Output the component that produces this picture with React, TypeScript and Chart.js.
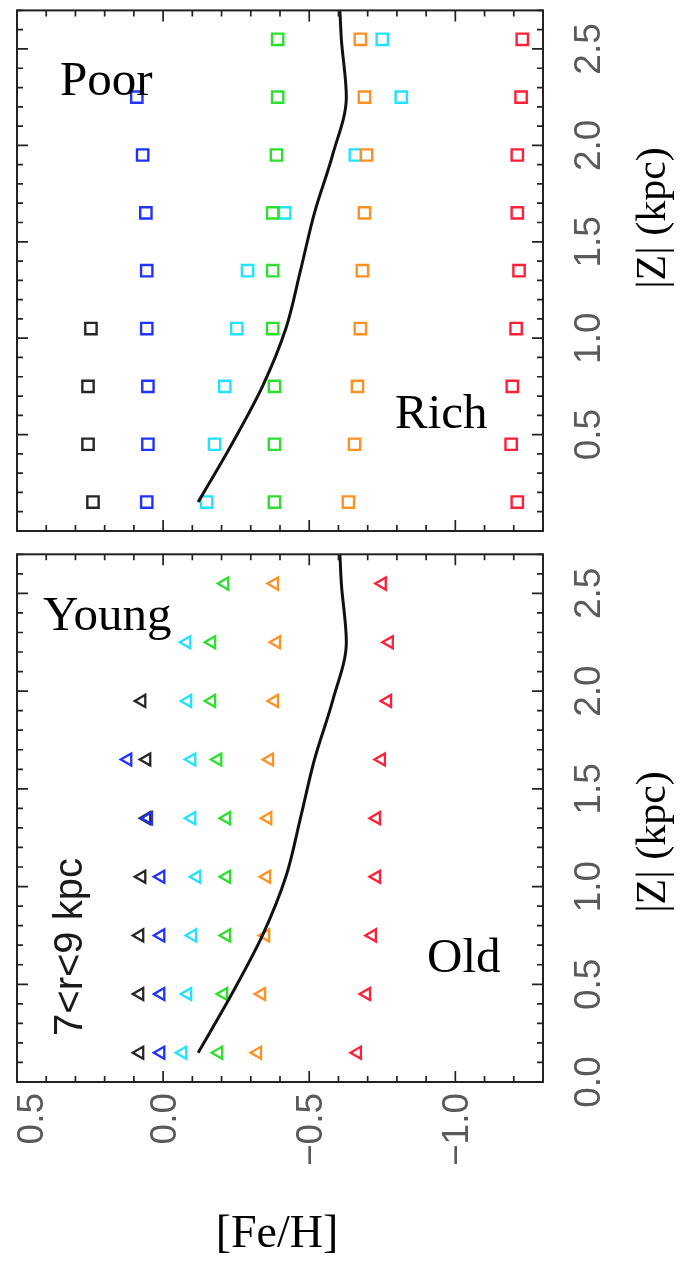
import React, { useEffect, useRef } from "react";
import { Chart, registerables } from "chart.js";

Chart.register(...registerables);

// |Z| bin centres (kpc) shared by every group
const Z_BINS = [0.15, 0.45, 0.75, 1.05, 1.35, 1.65, 1.95, 2.25, 2.55];

// mean [Fe/H] gradient of the whole sample
const MEAN_Z = [0.15, 0.45, 0.75, 1.05, 1.35, 1.65, 1.95, 2.25, 2.55, 2.7];
const MEAN_FEH = [-0.12, -0.235, -0.34, -0.42, -0.47, -0.518, -0.58, -0.627, -0.61, -0.605];

// upper panel: metallicity-selected groups, mean [Fe/H] per |Z| bin
const METAL_BLACK = [0.24, 0.257, 0.257, 0.247, null, null, null, null, null];
const METAL_BLUE = [0.056, 0.052, 0.052, 0.056, 0.056, 0.059, 0.07, 0.09, null];
const METAL_CYAN = [-0.149, -0.176, -0.211, -0.252, -0.289, -0.416, -0.658, -0.815, -0.75];
const METAL_GREEN = [-0.381, -0.381, -0.381, -0.375, -0.375, -0.375, -0.388, -0.392, -0.392];
const METAL_ORANGE = [-0.634, -0.655, -0.665, -0.675, -0.682, -0.689, -0.696, -0.689, -0.675];
const METAL_RED = [-1.212, -1.191, -1.195, -1.208, -1.218, -1.212, -1.212, -1.225, -1.229];

// lower panel: age-selected groups, mean [Fe/H] per |Z| bin
const AGE_BLACK = [0.08, 0.08, 0.08, 0.073, 0.056, 0.056, 0.073, null, null];
const AGE_BLUE = [0.008, 0.008, 0.008, 0.008, 0.05, 0.121, null, null, null];
const AGE_CYAN = [-0.067, -0.084, -0.101, -0.115, -0.098, -0.098, -0.084, -0.081, null];
const AGE_GREEN = [-0.19, -0.207, -0.217, -0.217, -0.217, -0.187, -0.166, -0.166, -0.211];
const AGE_ORANGE = [-0.323, -0.337, -0.351, -0.354, -0.358, -0.364, -0.381, -0.388, -0.381];
const AGE_RED = [-0.665, -0.696, -0.716, -0.73, -0.73, -0.747, -0.768, -0.774, -0.75];

// axis ticks
const FEH_TICKS = [0.5, 0.0, -0.5, -1.0];
const FEH_TICK_TEXT = ["0.5", "0.0", "\u22120.5", "\u22121.0"];
const Z_TICKS_UPPER = [0.5, 1.0, 1.5, 2.0, 2.5];
const Z_TICKS_LOWER = [0.0, 0.5, 1.0, 1.5, 2.0, 2.5];

const FEH_MIN = -1.3;
const FEH_MAX = 0.5;
const Z_MIN = 0;
const Z_MAX = 2.7;

const GROUP_COLORS = ["#262626", "#2233ff", "#22e2ff", "#2ee02e", "#ff9122", "#ff2038"];

const SERIF = "'Liberation Serif', 'Times New Roman', serif";
const SANS = "'Liberation Sans', Arial, sans-serif";

function toPoints(values: (number | null)[]) {
  const pts: { x: number; y: number }[] = [];
  values.forEach((v, i) => {
    if (v !== null) pts.push({ x: v, y: Z_BINS[i] });
  });
  return pts;
}

function meanLine() {
  return {
    type: "line" as const,
    data: MEAN_Z.map((z, i) => ({ x: MEAN_FEH[i], y: z })),
    indexAxis: "y",
    borderColor: "#111",
    borderWidth: 3,
    pointRadius: 0,
    showLine: true,
    fill: false,
    cubicInterpolationMode: "monotone",
    order: 0,
  };
}

function markerSets(groups: (number | null)[][], style: string, radius: number, rotation: number, width: number) {
  return groups.map((g, i) => ({
    type: "scatter" as const,
    data: toPoints(g),
    pointStyle: style,
    pointRadius: radius,
    pointRotation: rotation,
    pointBorderWidth: width,
    pointBorderColor: GROUP_COLORS[i],
    pointBackgroundColor: "rgba(0,0,0,0)",
    borderColor: GROUP_COLORS[i],
    showLine: false,
    order: 10 - i,
  }));
}

type Label = { text: string; x: number; y: number; font: string; align?: CanvasTextAlign; rotated?: boolean; color?: string };

type Decor = {
  zTicks: number[];
  fehLabels: boolean;
  labels: Label[];
};

function drawRotated(ctx: CanvasRenderingContext2D, text: string, x: number, y: number, align: CanvasTextAlign) {
  ctx.save();
  ctx.translate(x, y);
  ctx.rotate(-Math.PI / 2);
  ctx.textAlign = align;
  ctx.textBaseline = "alphabetic";
  ctx.fillText(text, 0, 0);
  ctx.restore();
}

function framePlugin(decor: Decor) {
  return {
    id: "panelFrame",
    afterDraw(chart: any) {
      const { ctx, chartArea: a, scales } = chart;
      const xs = scales.x;
      const ys = scales.y;
      ctx.save();
      ctx.strokeStyle = "#222";
      ctx.lineWidth = 2;
      ctx.strokeRect(a.left, a.top, a.right - a.left, a.bottom - a.top);

      // inward tick marks on all four sides
      ctx.lineWidth = 1.7;
      ctx.beginPath();
      for (let i = Math.round(FEH_MIN * 10); i <= Math.round(FEH_MAX * 10); i++) {
        const px = xs.getPixelForValue(i / 10);
        const len = i % 5 === 0 ? 11 : 6;
        ctx.moveTo(px, a.bottom);
        ctx.lineTo(px, a.bottom - len);
        ctx.moveTo(px, a.top);
        ctx.lineTo(px, a.top + len);
      }
      for (let i = Math.round(Z_MIN * 10); i <= Math.round(Z_MAX * 10); i++) {
        const py = ys.getPixelForValue(i / 10);
        const len = i % 5 === 0 ? 11 : 6;
        ctx.moveTo(a.left, py);
        ctx.lineTo(a.left + len, py);
        ctx.moveTo(a.right, py);
        ctx.lineTo(a.right - len, py);
      }
      ctx.stroke();

      // |Z| tick labels on the right, reading upward
      ctx.fillStyle = "#5a5a5a";
      ctx.font = `37px ${SANS}`;
      decor.zTicks.forEach((z) => {
        drawRotated(ctx, z.toFixed(1), a.right + 57, ys.getPixelForValue(z), "center");
      });

      // [Fe/H] tick labels below the lower panel
      if (decor.fehLabels) {
        FEH_TICKS.forEach((f, i) => {
          const px = xs.getPixelForValue(f);
          const bx = f === FEH_MAX ? px + 26 : px + 13;
          drawRotated(ctx, FEH_TICK_TEXT[i], bx, a.bottom + 11, "right");
        });
      }

      decor.labels.forEach((l) => {
        ctx.fillStyle = l.color || "#000";
        ctx.font = l.font;
        if (l.rotated) {
          drawRotated(ctx, l.text, l.x, l.y, l.align || "center");
        } else {
          ctx.textAlign = l.align || "left";
          ctx.textBaseline = "alphabetic";
          ctx.fillText(l.text, l.x, l.y);
        }
      });
      ctx.restore();
    },
  };
}

type PanelProps = {
  top: number;
  height: number;
  padTop: number;
  padBottom: number;
  datasets: any[];
  decor: Decor;
};

function Panel({ top, height, padTop, padBottom, datasets, decor }: PanelProps) {
  const ref = useRef<HTMLCanvasElement | null>(null);
  useEffect(() => {
    if (!ref.current) return;
    const chart = new Chart(ref.current, {
      type: "scatter",
      data: { datasets },
      options: {
        animation: false,
        responsive: false,
        devicePixelRatio: 1,
        layout: { padding: { left: 17, right: 137, top: padTop, bottom: padBottom } },
        plugins: { legend: { display: false }, tooltip: { enabled: false } },
        scales: {
          x: { type: "linear", min: FEH_MIN, max: FEH_MAX, reverse: true, display: false },
          y: { type: "linear", min: Z_MIN, max: Z_MAX, display: false },
        },
      },
      plugins: [framePlugin(decor)],
    } as any);
    return () => chart.destroy();
  }, []);
  return (
    <canvas
      ref={ref}
      width={680}
      height={height}
      style={{ position: "absolute", left: 0, top, width: 680, height }}
    />
  );
}

const upperDatasets = [
  meanLine(),
  ...markerSets([METAL_BLACK, METAL_BLUE, METAL_CYAN, METAL_GREEN, METAL_ORANGE, METAL_RED], "rect", 8, 0, 2.4),
];

const lowerDatasets = [
  meanLine(),
  ...markerSets([AGE_BLACK, AGE_BLUE, AGE_CYAN, AGE_GREEN, AGE_ORANGE, AGE_RED], "triangle", 7, -90, 2.3),
];

const upperDecor: Decor = {
  zTicks: Z_TICKS_UPPER,
  fehLabels: false,
  labels: [
    { text: "Poor", x: 60, y: 95, font: `49px ${SERIF}` },
    { text: "Rich", x: 395, y: 428, font: `49px ${SERIF}` },
    { text: "|Z| (kpc)", x: 665, y: 218, font: `42px ${SERIF}`, rotated: true },
  ],
};

const lowerDecor: Decor = {
  zTicks: Z_TICKS_LOWER,
  fehLabels: true,
  labels: [
    { text: "Young", x: 43, y: 85, font: `49px ${SERIF}` },
    { text: "Old", x: 427, y: 427, font: `49px ${SERIF}` },
    { text: "7<r<9 kpc", x: 82, y: 402, font: `40px ${SANS}`, rotated: true, color: "#1a1a1a" },
    { text: "|Z| (kpc)", x: 665, y: 297, font: `42px ${SERIF}`, rotated: true },
    { text: "[Fe/H]", x: 277, y: 702, font: `46px ${SERIF}`, align: "center" },
  ],
};

export default function App() {
  return (
    <div style={{ position: "absolute", left: 0, top: 0, width: 680, height: 1262, background: "#fff" }}>
      <Panel top={0} height={545} padTop={7} padBottom={14} datasets={upperDatasets} decor={upperDecor} />
      <Panel top={545} height={717} padTop={9} padBottom={180} datasets={lowerDatasets} decor={lowerDecor} />
    </div>
  );
}
